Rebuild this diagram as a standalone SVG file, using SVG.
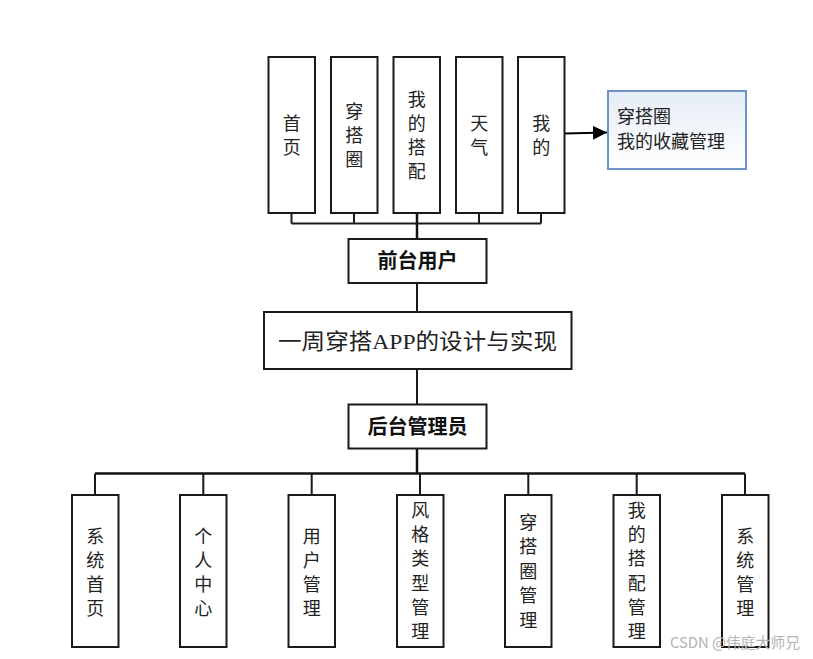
<svg xmlns="http://www.w3.org/2000/svg" width="813" height="659" viewBox="0 0 813 659">
<defs>
<style>
.box{fill:#fff;stroke:#1a1a1a;stroke-width:2}
.t{font-family:"Noto Sans CJK SC",sans-serif;font-size:18px;fill:#222;text-anchor:middle}
.tb{font-family:"Noto Sans CJK SC",sans-serif;font-size:20px;font-weight:bold;fill:#111;text-anchor:middle}
.ln{stroke:#1a1a1a;stroke-width:2;fill:none}
.trunk{stroke:#111;stroke-width:2.5;fill:none}
</style>
<linearGradient id="bg" x1="0" y1="0" x2="0" y2="1">
<stop offset="0" stop-color="#e6edf7"/>
<stop offset="1" stop-color="#ffffff"/>
</linearGradient>
<marker id="arr" viewBox="0 0 14 14" refX="14" refY="7" markerWidth="14" markerHeight="14" markerUnits="userSpaceOnUse" orient="auto">
<path d="M0,0 L14,7 L0,14 Z" fill="#000"/>
</marker>
</defs>
<rect width="813" height="659" fill="#fff"/>
<g id="connectors">
<path class="ln" d="M291.5,213 V223.5 M354,213 V223.5 M479,213 V223.5 M541,213 V223.5 M291.5,223.5 H541"/>
<path class="trunk" d="M417,213 V239"/>
<path class="ln" d="M417,283 V312"/>
<path class="ln" d="M417,369 V404"/>
<path class="trunk" d="M417,448 V473"/>
<path class="trunk" d="M95,473.5 H745"/>
<path class="ln" d="M95,473.5 V495 M203.3,473.5 V495 M311.7,473.5 V495 M420,473.5 V495 M528.3,473.5 V495 M636.7,473.5 V495 M745,473.5 V495"/>
<path d="M564.5,133.5 L607,132.5" stroke="#000" stroke-width="2" fill="none" marker-end="url(#arr)"/>
</g>
<g id="n-home"><rect class="box" x="268.5" y="57" width="46.5" height="156"/>
<text class="t"><tspan x="291.7" y="129.5">首</tspan><tspan x="291.7" y="153.5">页</tspan></text></g>
<g id="n-circle"><rect class="box" x="331" y="57" width="46.5" height="156"/>
<text class="t"><tspan x="354.2" y="117.5">穿</tspan><tspan x="354.2" y="141.5">搭</tspan><tspan x="354.2" y="165.5">圈</tspan></text></g>
<g id="n-mymatch"><rect class="box" x="393.5" y="57" width="46.5" height="156"/>
<text class="t"><tspan x="416.7" y="105.5">我</tspan><tspan x="416.7" y="129.5">的</tspan><tspan x="416.7" y="153.5">搭</tspan><tspan x="416.7" y="177.5">配</tspan></text></g>
<g id="n-weather"><rect class="box" x="456" y="57" width="46.5" height="156"/>
<text class="t"><tspan x="479.2" y="129.5">天</tspan><tspan x="479.2" y="153.5">气</tspan></text></g>
<g id="n-mine"><rect class="box" x="518" y="57" width="46.5" height="156"/>
<text class="t"><tspan x="541.2" y="129.5">我</tspan><tspan x="541.2" y="153.5">的</tspan></text></g>
<g id="n-favorites"><rect x="608" y="91" width="138" height="78" fill="url(#bg)" stroke="#6f93c4" stroke-width="2"/>
<text class="t" style="text-anchor:start"><tspan x="617" y="122.5">穿搭圈</tspan><tspan x="617" y="148">我的收藏管理</tspan></text></g>
<g id="n-front"><rect class="box" x="348.5" y="239" width="138" height="44"/>
<text class="tb" x="417.5" y="268">前台用户</text></g>
<g id="n-main"><rect class="box" x="264" y="312" width="307.5" height="57"/>
<text x="278" y="348.5" textLength="279" lengthAdjust="spacingAndGlyphs" style="font-family:'Liberation Serif','Noto Sans CJK SC',serif;font-size:22px;fill:#222">一周穿搭APP的设计与实现</text></g>
<g id="n-admin"><rect class="box" x="348.5" y="404.5" width="138" height="44"/>
<text class="tb" x="417.5" y="433.5">后台管理员</text></g>
<g id="n-sys-home"><rect class="box" x="72" y="495" width="46.5" height="152"/>
<text class="t"><tspan x="95.2" y="542.5">系</tspan><tspan x="95.2" y="566.5">统</tspan><tspan x="95.2" y="590.5">首</tspan><tspan x="95.2" y="614.5">页</tspan></text></g>
<g id="n-personal"><rect class="box" x="180" y="495" width="46.5" height="152"/>
<text class="t"><tspan x="203.3" y="542.5">个</tspan><tspan x="203.3" y="566.5">人</tspan><tspan x="203.3" y="590.5">中</tspan><tspan x="203.3" y="614.5">心</tspan></text></g>
<g id="n-users"><rect class="box" x="288.5" y="495" width="46.5" height="152"/>
<text class="t"><tspan x="311.7" y="542.5">用</tspan><tspan x="311.7" y="566.5">户</tspan><tspan x="311.7" y="590.5">管</tspan><tspan x="311.7" y="614.5">理</tspan></text></g>
<g id="n-style"><rect class="box" x="397" y="495" width="46.5" height="152"/>
<text class="t"><tspan x="420.2" y="517">风</tspan><tspan x="420.2" y="541.2">格</tspan><tspan x="420.2" y="565.4">类</tspan><tspan x="420.2" y="589.6">型</tspan><tspan x="420.2" y="613.8">管</tspan><tspan x="420.2" y="638">理</tspan></text></g>
<g id="n-circle-admin"><rect class="box" x="505" y="495" width="46.5" height="152"/>
<text class="t"><tspan x="528.3" y="528.5">穿</tspan><tspan x="528.3" y="553">搭</tspan><tspan x="528.3" y="577.5">圈</tspan><tspan x="528.3" y="602">管</tspan><tspan x="528.3" y="626.5">理</tspan></text></g>
<g id="n-match-admin"><rect class="box" x="613.5" y="495" width="46.5" height="152"/>
<text class="t"><tspan x="636.7" y="517">我</tspan><tspan x="636.7" y="541.2">的</tspan><tspan x="636.7" y="565.4">搭</tspan><tspan x="636.7" y="589.6">配</tspan><tspan x="636.7" y="613.8">管</tspan><tspan x="636.7" y="638">理</tspan></text></g>
<g id="n-sys-admin"><rect class="box" x="722" y="495" width="46.5" height="152"/>
<text class="t"><tspan x="745.2" y="542.5">系</tspan><tspan x="745.2" y="566.5">统</tspan><tspan x="745.2" y="590.5">管</tspan><tspan x="745.2" y="614.5">理</tspan></text></g>
<text x="670" y="647.5" textLength="130" lengthAdjust="spacingAndGlyphs" style="font-family:'Noto Sans CJK SC',sans-serif;font-size:15px;fill:#b4b4b4">CSDN @伟庭大师兄</text>
</svg>
